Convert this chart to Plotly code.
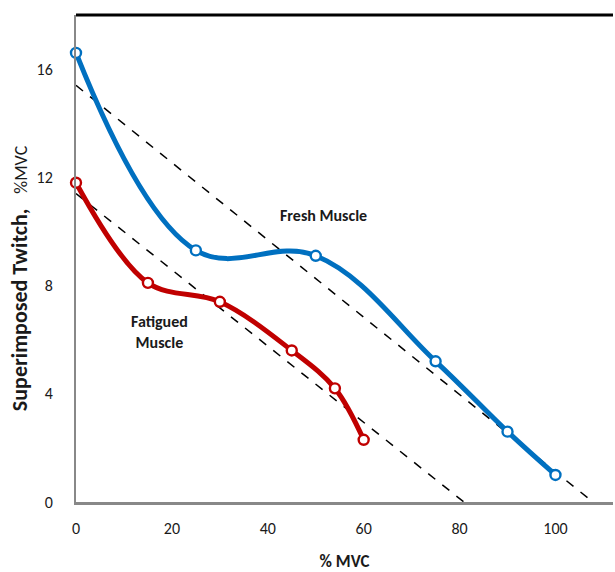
import plotly.graph_objects as go

fresh_x = [0, 25, 50, 75, 90, 100]
fresh_y = [16.6, 9.3, 9.1, 5.2, 2.6, 1.0]
fat_x = [0, 15, 30, 45, 54, 60]
fat_y = [11.8, 8.1, 7.4, 5.6, 4.2, 2.3]
fresh_trend_x = [0, 107.8]
fresh_trend_y = [15.4, 0]
fat_trend_x = [0, 80.9]
fat_trend_y = [11.4, 0]
x_ticks = [0, 20, 40, 60, 80, 100]
y_ticks = [0, 4, 8, 12, 16]

BLUE = "#0070C0"
RED = "#C00000"
FONT = "Carlito, Liberation Sans Narrow, Lato, Open Sans"

fig = go.Figure()
fig.add_trace(go.Scatter(x=fresh_trend_x, y=fresh_trend_y, mode="lines",
                         line=dict(color="black", width=1.5, dash="dash"), showlegend=False))
fig.add_trace(go.Scatter(x=fat_trend_x, y=fat_trend_y, mode="lines",
                         line=dict(color="black", width=1.5, dash="dash"), showlegend=False))
fig.add_trace(go.Scatter(x=fresh_x, y=fresh_y, mode="lines+markers",
                         line=dict(color=BLUE, width=5, shape="spline", smoothing=1.1),
                         marker=dict(symbol="circle", size=10, color="white",
                                     line=dict(color=BLUE, width=2.4)),
                         cliponaxis=False, showlegend=False))
fig.add_trace(go.Scatter(x=fat_x, y=fat_y, mode="lines+markers",
                         line=dict(color=RED, width=5, shape="spline", smoothing=1.0),
                         marker=dict(symbol="circle", size=10, color="white",
                                     line=dict(color=RED, width=2.4)),
                         cliponaxis=False, showlegend=False))

fig.add_annotation(x=51.6, y=10.6, text="<b>Fresh Muscle</b>", showarrow=False,
                   font=dict(family=FONT, size=16, color="#1a1a1a"))
fig.add_annotation(x=17.5, y=6.3, text="<b>Fatigued<br>Muscle</b>", showarrow=False,
                   font=dict(family=FONT, size=16, color="#1a1a1a"))
fig.add_annotation(xref="paper", yref="paper", x=-0.104, y=0.46,
                   xanchor="center", yanchor="middle", textangle=-90, showarrow=False,
                   text="<b>Superimposed Twitch,</b>   <span style='font-size:18px'>%MVC</span>",
                   font=dict(family=FONT, size=22, color="#1a1a1a"))

fig.add_shape(type="line", xref="paper", yref="paper", x0=0, x1=1, y0=1, y1=1,
              line=dict(color="black", width=3))

fig.update_layout(
    width=615, height=572,
    margin=dict(l=76, r=2, t=15, b=70),
    plot_bgcolor="white", paper_bgcolor="white",
    font=dict(family=FONT, size=15, color="#1a1a1a"),
    xaxis=dict(range=[0, 112], tickvals=x_ticks, showgrid=False, zeroline=False,
               showline=True, linecolor="#888", linewidth=2.5, ticks="",
               ticklabelstandoff=10, automargin=False,
               tickfont=dict(family=FONT, size=16, color="#1a1a1a"),
               title=dict(text="<b>% MVC</b>", font=dict(size=17), standoff=24)),
    yaxis=dict(range=[0, 18], tickvals=y_ticks, showgrid=False, zeroline=False,
               showline=True, linecolor="#888", linewidth=2, ticks="",
               ticklabelstandoff=18, automargin=False,
               tickfont=dict(family=FONT, size=16, color="#1a1a1a")),
)

fig.write_html("out.html", post_script="document.body.style.margin='0';",
               config={"displayModeBar": False})
